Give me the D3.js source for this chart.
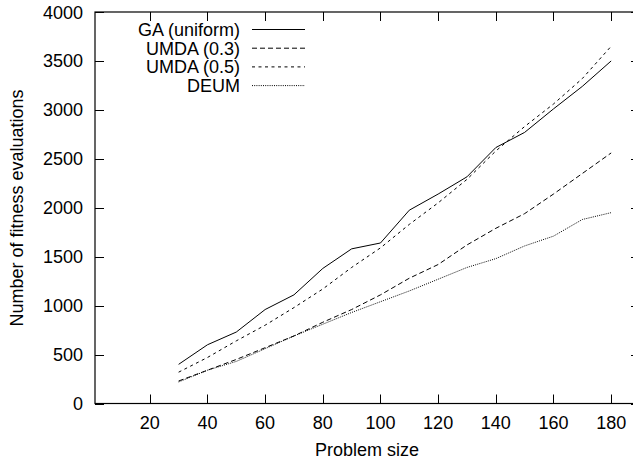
<!DOCTYPE html>
<html><head><meta charset="utf-8">
<script src="https://d3js.org/d3.v7.min.js"></script>
<style>body{margin:0;background:#fff}svg{display:block}text{font-family:"Liberation Sans",Arial,sans-serif;fill:#000}</style>
</head><body>
<script>
const sizes = [30,40,50,60,70,80,90,100,110,120,130,140,150,160,170,180];
const gaUniform = [400,600,730,960,1110,1380,1580,1640,1975,2140,2316,2615,2770,3010,3240,3500];
const umda03 = [230,340,450,570,690,830,960,1110,1280,1420,1620,1790,1940,2140,2350,2560];
const umda05 = [320,470,640,800,980,1170,1390,1590,1830,2050,2290,2580,2830,3060,3320,3650];
const deum = [220,340,430,560,690,810,930,1040,1150,1270,1390,1480,1610,1710,1880,1950];
const xTicks = [20,40,60,80,100,120,140,160,180];
const yTicks = [0,500,1000,1500,2000,2500,3000,3500,4000];
const seriesNames = ["GA (uniform)","UMDA (0.3)","UMDA (0.5)","DEUM"];
const seriesValues = [gaUniform, umda03, umda05, deum];
const dashes = [null, "5,3", "3,3.5", "1,1.2"];

const W = 633, H = 463;
const svg = d3.select("body").append("svg").attr("width", W).attr("height", H);
const x = d3.scaleLinear().domain([1,190]).range([95,640]);
const y = d3.scaleLinear().domain([0,4000]).range([403.5,12]);
const fs = 18;

// frame
svg.append("rect").attr("x",95).attr("y",12).attr("width",545).attr("height",391.5)
  .attr("fill","none").attr("stroke","#000").attr("stroke-width",1.2);

const tl = 9;
xTicks.forEach(v=>{
  const px = Math.round(x(v))+0.5;
  svg.append("line").attr("x1",px).attr("x2",px).attr("y1",y(0)).attr("y2",y(0)-tl).attr("stroke","#000");
  svg.append("line").attr("x1",px).attr("x2",px).attr("y1",y(4000)).attr("y2",y(4000)+tl).attr("stroke","#000");
  svg.append("text").attr("x",x(v)).attr("y",429).attr("text-anchor","middle").attr("font-size",fs).text(v);
});
yTicks.forEach(v=>{
  const py = Math.round(y(v))+0.5;
  svg.append("line").attr("x1",95).attr("x2",95+tl).attr("y1",py).attr("y2",py).attr("stroke","#000");
  svg.append("line").attr("x1",640).attr("x2",640-tl).attr("y1",py).attr("y2",py).attr("stroke","#000");
  svg.append("text").attr("x",83).attr("y",y(v)+6.5).attr("text-anchor","end").attr("font-size",fs).text(v);
});
svg.append("text").attr("x",367).attr("y",456).attr("text-anchor","middle").attr("font-size",fs).text("Problem size");
svg.append("text").attr("transform","translate(23,208) rotate(-90)").attr("text-anchor","middle").attr("font-size",fs).text("Number of fitness evaluations");

const line = d3.line().x((d,i)=>x(sizes[i])).y(d=>y(d));
seriesValues.forEach((vals,k)=>{
  const p = svg.append("path").datum(vals).attr("d",line).attr("fill","none").attr("stroke","#000").attr("stroke-width",1);
  if (dashes[k]) p.attr("stroke-dasharray",dashes[k]);
});
seriesNames.forEach((n,k)=>{
  const ly = 29.5 + k*18.7;
  svg.append("text").attr("x",240).attr("y",ly+6.5).attr("text-anchor","end").attr("font-size",fs).text(n);
  const l = svg.append("line").attr("x1",252).attr("x2",305).attr("y1",ly).attr("y2",ly).attr("stroke","#000").attr("stroke-width",1);
  if (dashes[k]) l.attr("stroke-dasharray",dashes[k]);
});
</script>
</body></html>
